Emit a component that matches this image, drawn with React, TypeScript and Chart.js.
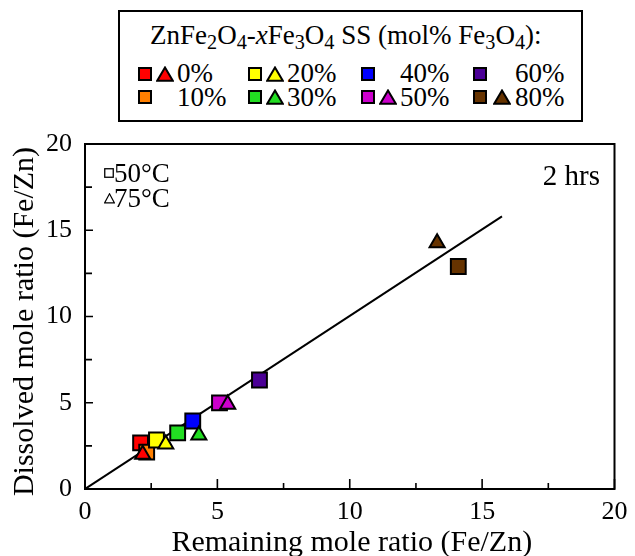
import React, { useEffect, useRef } from 'react';
import { Chart, registerables } from 'chart.js';

Chart.register(...registerables);

// ---------- data ----------
const compositions = ['0%', '10%', '20%', '30%', '40%', '50%', '60%', '80%'];
const compColors = ['#ff0000', '#ff7f00', '#ffff00', '#22dd22', '#0000ff', '#cc00cc', '#4b0096', '#663300'];

// 50 °C (squares)
const sq50Comp = ['0%', '10%', '20%', '30%', '40%', '50%', '60%', '80%'];
const sq50X = [2.1, 2.33, 2.7, 3.5, 4.07, 5.08, 6.59, 14.1];
const sq50Y = [2.67, 2.14, 2.84, 3.25, 3.94, 4.99, 6.32, 12.9];

// 75 °C (triangles)
const tri75Comp = ['0%', '20%', '30%', '50%', '80%'];
const tri75X = [2.18, 3.05, 4.3, 5.39, 13.3];
const tri75Y = [2.01, 2.6, 3.12, 4.91, 14.27];

// reference line
const fitX = [0, 15.75];
const fitY = [0, 15.8];

const xTicks = [0, 5, 10, 15, 20];
const yTicks = [0, 5, 10, 15, 20];
const minorTicks = [2.5, 7.5, 12.5, 17.5];

const xTitle = 'Remaining mole ratio (Fe/Zn)';
const yTitle = 'Dissolved mole ratio (Fe/Zn)';

// ---------- layout ----------
const FONT = "'Liberation Serif', 'Times New Roman', serif";
const W = 619;
const H = 548;

const colorOf = (c: string) => compColors[compositions.indexOf(c)];

const framePlugin = {
  id: 'frame',
  afterDraw(chart: any) {
    const { ctx, chartArea } = chart;
    const { left, right, top, bottom } = chartArea;
    const xs = chart.scales.x;
    const ys = chart.scales.y;
    ctx.save();
    ctx.strokeStyle = '#000';
    ctx.lineWidth = 2;
    ctx.strokeRect(left, top, right - left, bottom - top);
    ctx.lineWidth = 1.6;
    ctx.beginPath();
    xTicks.forEach((v) => {
      const p = xs.getPixelForValue(v);
      ctx.moveTo(p, bottom);
      ctx.lineTo(p, bottom - 10);
    });
    minorTicks.forEach((v) => {
      const p = xs.getPixelForValue(v);
      ctx.moveTo(p, bottom);
      ctx.lineTo(p, bottom - 6);
    });
    yTicks.forEach((v) => {
      const p = ys.getPixelForValue(v);
      ctx.moveTo(left, p);
      ctx.lineTo(left + 8, p);
    });
    minorTicks.forEach((v) => {
      const p = ys.getPixelForValue(v);
      ctx.moveTo(left, p);
      ctx.lineTo(left + 7, p);
    });
    ctx.stroke();

    ctx.fillStyle = '#000';
    ctx.font = `30px ${FONT}`;
    ctx.textAlign = 'center';
    ctx.textBaseline = 'alphabetic';
    ctx.fillText(xTitle, (left + right) / 2 + 2, 543);
    ctx.translate(25, (top + bottom) / 2 + 5);
    ctx.rotate(-Math.PI / 2);
    ctx.fillText(yTitle, 0, 0);
    ctx.restore();
  },
};

// legend slot layout (page coordinates)
const legendCols = [
  { sq: 145, tri: 165, text: 177 },
  { sq: 255, tri: 275, text: 287 },
  { sq: 368, tri: 388, text: 400 },
  { sq: 480, tri: 502, text: 515 },
];
const legendRows = [
  { cy: 73.5, base: 83 },
  { cy: 96.5, base: 107 },
];

const Txt = ({ x, base, size, children, right }: any) => {
  const style: any = {
    position: 'absolute',
    top: base - 8 - 0.8375 * size,
    fontFamily: FONT,
    fontSize: size,
    lineHeight: `${size}px`,
    whiteSpace: 'nowrap',
    color: '#000',
  };
  if (right !== undefined) style.right = W - (right - 8);
  else style.left = x - 8;
  return <div style={style}>{children}</div>;
};

const subStyle: any = { fontSize: '0.75em', verticalAlign: '-0.25em', lineHeight: 0 };

const Square = ({ cx, cy, color }: any) => (
  <div
    style={{
      position: 'absolute',
      left: cx - 8 - 7,
      top: cy - 8 - 7,
      width: 14,
      height: 14,
      boxSizing: 'border-box',
      border: '2px solid #000',
      background: color,
    }}
  />
);

const Tri = ({ cx, cy, color }: any) => (
  <svg width={18} height={16} style={{ position: 'absolute', left: cx - 8 - 9, top: cy - 8 - 8 }}>
    <polygon points="9,1.5 16.8,14.8 1.2,14.8" fill={color} stroke="#000" strokeWidth={2} />
  </svg>
);

const OpenSquareGlyph = () => (
  <svg width={10} height={10} style={{ position: 'absolute', left: 104 - 8, top: 168 - 8 }}>
    <rect x={0.75} y={0.75} width={8.5} height={8.5} fill="none" stroke="#000" strokeWidth={1.3} />
  </svg>
);

const OpenTriGlyph = () => (
  <svg width={11} height={11} style={{ position: 'absolute', left: 103.5 - 8, top: 193 - 8 }}>
    <polygon points="5.5,0.8 10.3,9.8 0.7,9.8" fill="none" stroke="#000" strokeWidth={1.2} />
  </svg>
);

export default function App() {
  const ref = useRef<HTMLCanvasElement>(null);

  useEffect(() => {
    if (!ref.current) return;
    const chart = new Chart(ref.current, {
      type: 'scatter',
      data: {
        datasets: [
          {
            label: 'fit',
            data: fitX.map((x, i) => ({ x, y: fitY[i] })),
            showLine: true,
            borderColor: '#000',
            borderWidth: 2,
            pointRadius: 0,
            order: 3,
          } as any,
          {
            label: '50°C',
            data: sq50X.map((x, i) => ({ x, y: sq50Y[i] })),
            pointStyle: 'rect',
            pointRadius: 10.5,
            backgroundColor: sq50Comp.map(colorOf),
            borderColor: '#000',
            borderWidth: 2,
            order: 2,
          },
          {
            label: '75°C',
            data: tri75X.map((x, i) => ({ x, y: tri75Y[i] })),
            pointStyle: 'triangle',
            pointRadius: 8.7,
            backgroundColor: tri75Comp.map(colorOf),
            borderColor: '#000',
            borderWidth: 2,
            order: 1,
          },
        ],
      },
      options: {
        animation: false,
        responsive: true,
        maintainAspectRatio: false,
        layout: { padding: { top: 136, right: 11, left: 0, bottom: 0 } },
        plugins: { legend: { display: false }, tooltip: { enabled: false } },
        scales: {
          x: {
            type: 'linear',
            min: 0,
            max: 20,
            grid: { display: false, drawTicks: false },
            border: { display: false },
            afterBuildTicks: (s: any) => {
              s.ticks = xTicks.map((v) => ({ value: v }));
            },
            afterFit: (s: any) => {
              s.height = H - 481;
              s.paddingLeft = 0;
              s.paddingRight = 0;
            },
            ticks: {
              padding: 8,
              color: '#000',
              maxRotation: 0,
              autoSkip: false,
              font: { family: FONT, size: 26 },
            },
          },
          y: {
            type: 'linear',
            min: 0,
            max: 20,
            grid: { display: false, drawTicks: false },
            border: { display: false },
            afterBuildTicks: (s: any) => {
              s.ticks = yTicks.map((v) => ({ value: v }));
            },
            afterFit: (s: any) => {
              s.width = 77;
              s.paddingTop = 0;
              s.paddingBottom = 0;
            },
            ticks: {
              padding: 13,
              color: '#000',
              autoSkip: false,
              font: { family: FONT, size: 26 },
            },
          },
        },
      },
      plugins: [framePlugin],
    });
    return () => chart.destroy();
  }, []);

  return (
    <div style={{ position: 'relative', width: W, height: H }}>
      <canvas ref={ref} />
      {/* legend box */}
      <div
        style={{
          position: 'absolute',
          left: 118 - 8,
          top: 10 - 8,
          width: 465,
          height: 112,
          boxSizing: 'border-box',
          border: '2px solid #000',
          background: '#fff',
        }}
      />
      <Txt x={150} base={45} size={27}>
        ZnFe<sub style={subStyle}>2</sub>O<sub style={subStyle}>4</sub>-<i>x</i>Fe
        <sub style={subStyle}>3</sub>O<sub style={subStyle}>4</sub> SS (mol% Fe<sub style={subStyle}>3</sub>O
        <sub style={subStyle}>4</sub>):
      </Txt>
      {compositions.map((c, i) => {
        const col = legendCols[Math.floor(i / 2)];
        const row = legendRows[i % 2];
        const color = compColors[i];
        return (
          <React.Fragment key={c}>
            {sq50Comp.includes(c) && <Square cx={col.sq} cy={row.cy} color={color} />}
            {tri75Comp.includes(c) && <Tri cx={col.tri} cy={row.cy} color={color} />}
            <Txt x={col.text} base={row.base} size={27}>
              {c}
            </Txt>
          </React.Fragment>
        );
      })}
      {/* annotations */}
      <OpenSquareGlyph />
      <Txt x={114} base={183} size={27}>
        50°C
      </Txt>
      <OpenTriGlyph />
      <Txt x={114} base={208} size={27}>
        75°C
      </Txt>
      <Txt right={600} base={185} size={29}>
        2 hrs
      </Txt>
    </div>
  );
}
